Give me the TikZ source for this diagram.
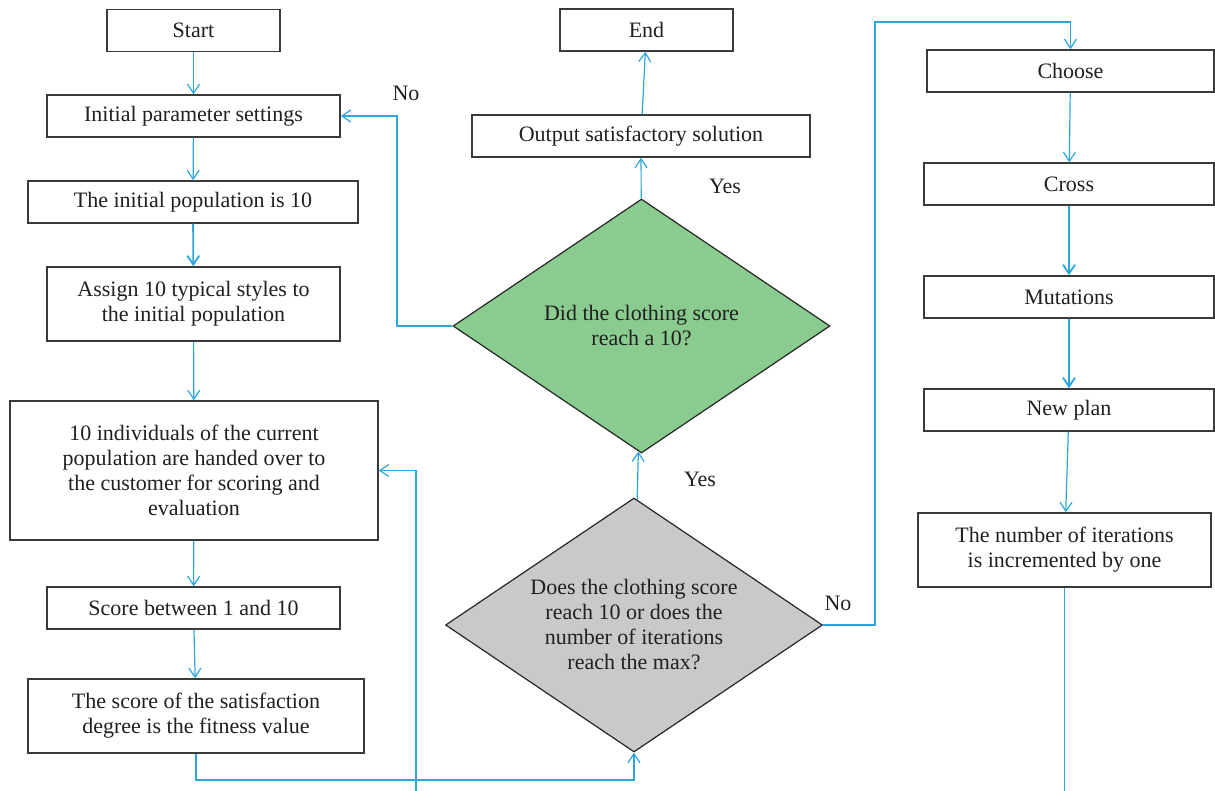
\documentclass[tikz,border=0pt]{standalone}
\usepackage{fontspec}
\setmainfont{Liberation Serif}
\usetikzlibrary{shapes.geometric,arrows.meta}
\definecolor{flowblue}{RGB}{45,166,224}
\definecolor{edgegray}{RGB}{58,58,58}
\definecolor{okgreen}{RGB}{138,203,143}
\definecolor{askgray}{RGB}{200,201,203}
\definecolor{inkblack}{RGB}{35,31,32}

\begin{document}
\begin{tikzpicture}[x=0.5pt,y=-0.5pt,
        font=\fontsize{11}{12.5}\selectfont, text=inkblack,
        box/.style={draw=edgegray,line width=0.75pt,fill=white,align=center,
                    inner sep=0pt,minimum height=21pt},
        ask/.style={diamond,aspect=1.5,draw=black!85,line width=0.6pt,align=center,inner sep=0pt,
                    minimum width=188.5pt,minimum height=127pt},
        flow/.style={draw=flowblue,line width=0.6pt,-{Straight Barb[length=4.5pt,width=6pt]}},
        thick flow/.style={flow,line width=0.9pt}]
    \useasboundingbox (0,0) rectangle (1215,791);

    \node[box,minimum width=86.5pt] (start) at (193.5,30.5) {Start};
    \node[box,minimum width=146.5pt] (init) at (193.5,116) {Initial parameter settings};
    \node[box,minimum width=165pt] (pop) at (193,202) {The initial population is 10};
    \node[box,minimum width=146.5pt,minimum height=37pt] (assign) at (193.5,304)
        {Assign 10 typical styles to\\the initial population};
    \node[box,minimum width=184pt,minimum height=69.5pt] (indiv) at (194,470.5)
        {10 individuals of the current\\population are handed over to\\the customer for scoring and\\evaluation};
    \node[box,minimum width=146.5pt] (score) at (193.5,608) {Score between 1 and 10};
    \node[box,minimum width=168pt,minimum height=37pt] (fit) at (196,716)
        {The score of the satisfaction\\degree is the fitness value};

    \node[box,minimum width=86.5pt] (end) at (646.5,30) {End};
    \node[box,minimum width=169pt] (output) at (641,136) {Output satisfactory solution};
    \node[ask,fill=okgreen] (reach) at (641.5,326) {Did the clothing score\\reach a 10?};
    \node[ask,fill=askgray] (stop) at (634,625)
        {Does the clothing score\\reach 10 or does the\\number of iterations\\reach the max?};

    \node[box,minimum width=143.5pt] (choose) at (1070.5,71) {Choose};
    \node[box,minimum width=145pt] (cross) at (1069,184) {Cross};
    \node[box,minimum width=145pt] (mutate) at (1069,297) {Mutations};
    \node[box,minimum width=145pt] (plan) at (1069,410) {New plan};
    \node[box,minimum width=146.5pt,minimum height=37pt] (iter) at (1064.5,550)
        {The number of iterations\\is incremented by one};

    \node (no1) at (406,93) {No};
    \node (yes1) at (725,186) {Yes};
    \node (yes2) at (700,479) {Yes};
    \node (no2) at (838,603) {No};

    \coordinate (back) at (397,0);
    \coordinate (over) at (875,22);
    \coordinate (low) at (0,780);
    \coordinate (under) at (0,800);
    \coordinate (up) at (416,470.5);

    \draw[flow] (start) -- (init);
    \draw[flow] (init) -- (pop);
    \draw[thick flow] (pop) -- (assign);
    \draw[flow] (assign) -- (indiv);
    \draw[flow] (indiv) -- (score);
    \draw[flow] (score) -- (fit);
    \draw[flow] (fit.south) -- (fit.south |- low) -| (stop.south);
    \draw[flow] (stop) -- (reach);
    \draw[flow] (reach) -- (output);
    \draw[flow] (output) -- (end);
    \draw[flow] (reach.west) -| (back |- init) -- (init.east);
    \draw[flow] (stop.east) -| (over) -| (choose.north);
    \draw[flow] (choose) -- (cross);
    \draw[thick flow] (cross) -- (mutate);
    \draw[thick flow] (mutate) -- (plan);
    \draw[flow] (plan) -- (iter);
    \draw[flow] (iter.south) -- (iter.south |- under) -| (up) -- (indiv.east);
\end{tikzpicture}
\end{document}
